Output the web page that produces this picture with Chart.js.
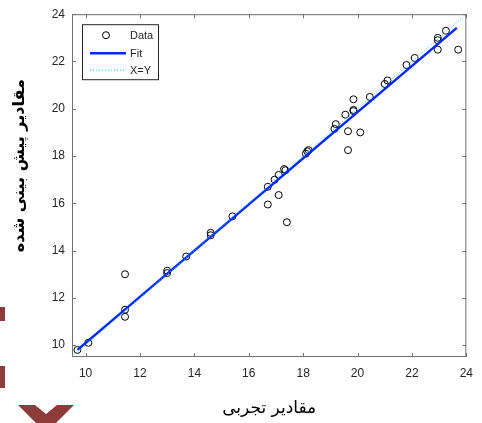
<!DOCTYPE html>
<html>
<head>
  <title>Predicted vs experimental</title>
  <style>
    body { margin: 0; background: #fff; }
    #wrap { position: relative; width: 482px; height: 423px; }
    .deco { position: absolute; background: #8e3b3b; }
  </style>
</head>
<body>
  <div id="wrap">
    <canvas id="chart" width="482" height="423"></canvas>
    <div class="deco" style="left:0; top:307px; width:5px; height:14px;"></div>
    <div class="deco" style="left:0; top:366px; width:5px; height:22px;"></div>
    <div class="deco" style="left:18px; top:405px; width:56px; height:18px; clip-path: polygon(0 0, 17px 0, 28px 9px, 39px 0, 56px 0, 28px 28px);"></div>
  </div>

  <script src="https://cdn.jsdelivr.net/npm/chart.js"></script>
  <script>
    // measured (experimental) vs predicted values
    const measured = [9.7, 10.1, 11.45, 11.45, 11.45, 13.0, 13.0, 13.7, 14.6, 14.6,
      15.4, 16.7, 16.7, 16.95, 17.1, 17.1, 17.3, 17.35, 17.4, 18.1,
      18.15, 18.2, 19.15, 19.2, 19.55, 19.65, 19.65, 19.85, 19.85, 19.85,
      20.1, 20.45, 21.0, 21.1, 21.8, 22.1, 22.95, 22.95, 22.95, 23.25, 23.7];
    const predicted = [9.8, 10.1, 13.0, 11.5, 11.2, 13.15, 13.05, 13.75, 14.75, 14.65,
      15.45, 16.7, 15.95, 17.0, 17.2, 16.35, 17.45, 17.4, 15.2, 18.1,
      18.2, 18.25, 19.15, 19.35, 19.75, 19.05, 18.25, 20.4, 19.95, 19.9,
      19.0, 20.5, 21.05, 21.2, 21.85, 22.15, 23.0, 22.9, 22.5, 23.3, 22.5];

    // fitted line end points and the X=Y reference
    const fitX = [9.7, 23.65];
    const fitY = [9.8, 23.42];
    const idealXY = [9.7, 24];

    const xTicks = [10, 12, 14, 16, 18, 20, 22, 24];
    const yTicks = [10, 12, 14, 16, 18, 20, 22, 24];
    const legendLabels = ['Data', 'Fit', 'X=Y'];

    const axisColor = '#707070';
    const textColor = '#262626';

    const pts = (xs, ys) => xs.map((x, i) => ({ x: x, y: ys[i] }));

    // box around the plot with inward ticks on all sides (matlab style)
    const boxTicks = {
      id: 'boxTicks',
      afterDatasetsDraw(chart) {
        const { ctx, chartArea: a, scales: { x, y } } = chart;
        ctx.save();
        ctx.strokeStyle = axisColor;
        ctx.lineWidth = 1;
        ctx.strokeRect(a.left + 0.5, a.top + 0.5, a.right - a.left - 1, a.bottom - a.top - 1);
        const len = 4;
        ctx.beginPath();
        x.ticks.forEach(t => {
          const px = Math.round(x.getPixelForValue(t.value)) + 0.5;
          ctx.moveTo(px, a.bottom); ctx.lineTo(px, a.bottom - len);
          ctx.moveTo(px, a.top); ctx.lineTo(px, a.top + len);
        });
        y.ticks.forEach(t => {
          const py = Math.round(y.getPixelForValue(t.value)) + 0.5;
          ctx.moveTo(a.left, py); ctx.lineTo(a.left + len, py);
          ctx.moveTo(a.right, py); ctx.lineTo(a.right - len, py);
        });
        ctx.stroke();
        ctx.restore();
      }
    };

    // legend box in the upper left of the plot
    const insideLegend = {
      id: 'insideLegend',
      afterDraw(chart) {
        const { ctx, chartArea: a } = chart;
        const ds = chart.data.datasets;
        const bx = a.left + 10, by = a.top + 10, bw = 76, bh = 55;
        ctx.save();
        ctx.fillStyle = '#fff';
        ctx.fillRect(bx, by, bw, bh);
        ctx.strokeStyle = textColor;
        ctx.lineWidth = 1;
        ctx.strokeRect(bx + 0.5, by + 0.5, bw, bh);
        ctx.font = '11px "Liberation Sans", Arial, sans-serif';
        ctx.textBaseline = 'middle';
        const rows = [by + 11, by + 29, by + 46];
        rows.forEach((ry, i) => {
          const d = ds[i];
          if (i === 0) {
            ctx.beginPath();
            ctx.arc(bx + 24, ry, d.pointRadius, 0, Math.PI * 2);
            ctx.strokeStyle = d.borderColor;
            ctx.lineWidth = d.borderWidth;
            ctx.stroke();
          } else {
            ctx.beginPath();
            ctx.setLineDash(d.borderDash || []);
            ctx.strokeStyle = d.borderColor;
            ctx.lineWidth = d.borderWidth;
            ctx.moveTo(bx + 8, ry); ctx.lineTo(bx + 44, ry);
            ctx.stroke();
            ctx.setLineDash([]);
          }
          ctx.fillStyle = textColor;
          ctx.fillText(legendLabels[i], bx + 48, ry + 1);
        });
        ctx.restore();
      }
    };

    new Chart(document.getElementById('chart'), {
      type: 'scatter',
      data: {
        datasets: [
          {
            label: legendLabels[0],
            data: pts(measured, predicted),
            pointStyle: 'circle',
            pointRadius: 3.5,
            pointHoverRadius: 3.5,
            borderColor: '#000',
            borderWidth: 1,
            backgroundColor: 'rgba(0,0,0,0)',
            order: 3
          },
          {
            label: legendLabels[1],
            type: 'line',
            data: pts(fitX, fitY),
            borderColor: '#0028ff',
            borderWidth: 2.5,
            pointRadius: 0,
            fill: false,
            order: 2
          },
          {
            label: legendLabels[2],
            type: 'line',
            data: pts(idealXY, idealXY),
            borderColor: '#22c8f0',
            borderWidth: 1,
            borderDash: [1, 2],
            pointRadius: 0,
            fill: false,
            order: 1
          }
        ]
      },
      options: {
        responsive: false,
        animation: false,
        layout: { padding: { top: 13, right: 5, left: 0, bottom: 0 } },
        plugins: { legend: { display: false }, tooltip: { enabled: false } },
        scales: {
          x: {
            type: 'linear',
            min: 9.5, max: 24,
            afterBuildTicks: axis => { axis.ticks = xTicks.map(v => ({ value: v })); },
            afterFit: axis => { axis.height = 66; },
            grid: { display: false, drawTicks: false },
            border: { display: false },
            ticks: { padding: 9, color: textColor, font: { family: '"Liberation Sans", Arial, sans-serif', size: 12 } },
            title: {
              display: true,
              text: 'مقادیر تجربی',
              color: '#000',
              padding: { top: 0, bottom: 4 },
              font: { family: '"DejaVu Sans", sans-serif', size: 17 }
            }
          },
          y: {
            type: 'linear',
            min: 9.5, max: 24,
            afterBuildTicks: axis => { axis.ticks = yTicks.map(v => ({ value: v })); },
            afterFit: axis => { axis.width = 72; },
            grid: { display: false, drawTicks: false },
            border: { display: false },
            ticks: { padding: 7, color: textColor, font: { family: '"Liberation Sans", Arial, sans-serif', size: 12 } },
            title: {
              display: true,
              // leading en-spaces nudge the title up a little, as in the original
              text: '\u2002\u2002\u2002\u2002\u2002مقادیر پیش بینی شده',
              color: '#000',
              padding: { top: 10, bottom: 0 },
              font: { family: '"DejaVu Sans", sans-serif', size: 16, weight: 'bold' }
            }
          }
        }
      },
      plugins: [boxTicks, insideLegend]
    });
  </script>
</body>
</html>
